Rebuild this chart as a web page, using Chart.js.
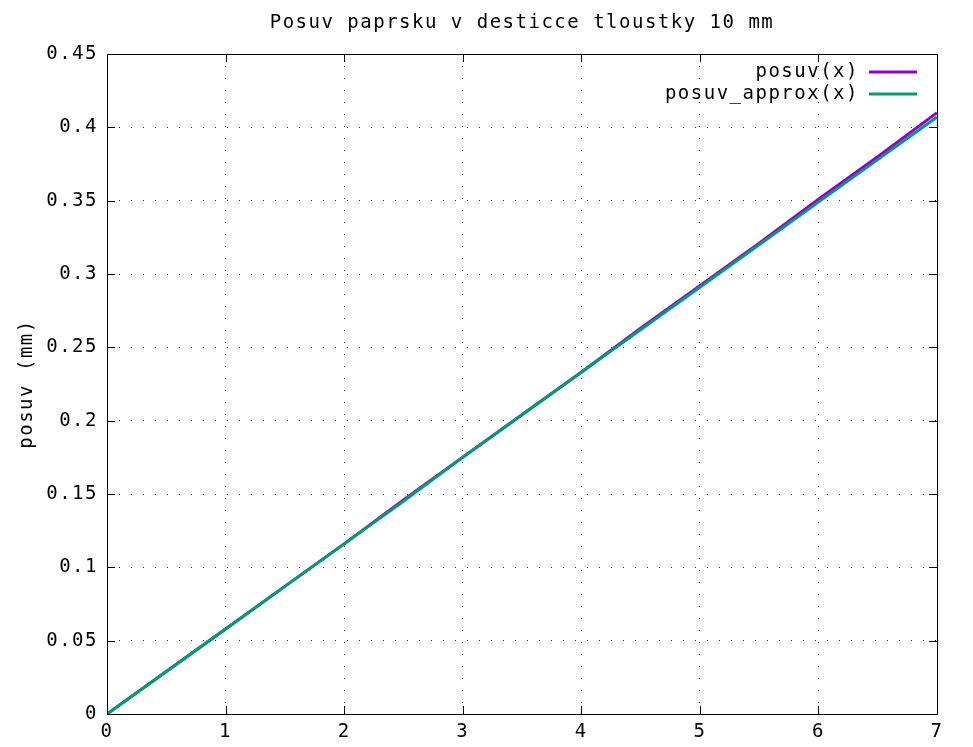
<!DOCTYPE html>
<html>
<head>
<meta charset="utf-8">
<title>Posuv paprsku</title>
<script src="https://cdn.jsdelivr.net/npm/chart.js@4.4.1/dist/chart.umd.min.js"></script>
<style>
  html, body { margin: 0; padding: 0; background: #fff; }
  #wrap { width: 973px; height: 747px; }
</style>
</head>
<body>
<div id="wrap"><canvas id="posuvChart"></canvas></div>
<script>
// hodnoty (uhel dopadu ve stupnich -> posuv v mm)
const uhly = [0, 0.5, 1, 1.5, 2, 2.5, 3, 3.5, 4, 4.5, 5, 5.5, 6, 6.5, 7];
const posuv = [0, 0.029, 0.058, 0.087, 0.116, 0.146, 0.175, 0.204, 0.233, 0.263, 0.292, 0.321, 0.351, 0.380, 0.410];
const posuvApprox = [0, 0.029, 0.058, 0.087, 0.116, 0.145, 0.175, 0.204, 0.233, 0.262, 0.291, 0.320, 0.349, 0.378, 0.407];
const xTicks = [0, 1, 2, 3, 4, 5, 6, 7];
const yTicks = [0, 0.05, 0.1, 0.15, 0.2, 0.25, 0.3, 0.35, 0.4, 0.45];
const nadpis = 'Posuv paprsku v desticce tloustky 10 mm';

const FONT = { family: '"DejaVu Sans Mono", monospace', size: 19 };
const SPACING = '1.5px';

function toPoints(xs, ys) {
    return xs.map((x, i) => ({ x: x, y: ys[i] }));
}

// sirsi rozestup pismen jako v gnuplotu
const spacingPlugin = {
    id: 'spacing',
    beforeLayout(chart) { chart.ctx.letterSpacing = SPACING; },
    beforeDraw(chart) { chart.ctx.letterSpacing = SPACING; }
};

// ramecek, ticky dovnitr, nadpis a legenda
const framePlugin = {
    id: 'frame',
    afterDraw(chart) {
        const { ctx, chartArea: a, scales } = chart;
        ctx.save();
        ctx.strokeStyle = '#000';
        ctx.lineWidth = 1;
        ctx.beginPath();
        xTicks.forEach(v => {
            const px = Math.round(scales.x.getPixelForValue(v)) + 0.5;
            ctx.moveTo(px, a.bottom); ctx.lineTo(px, a.bottom - 8);
            ctx.moveTo(px, a.top); ctx.lineTo(px, a.top + 8);
        });
        yTicks.forEach(v => {
            const py = Math.round(scales.y.getPixelForValue(v)) + 0.5;
            ctx.moveTo(a.left, py); ctx.lineTo(a.left + 8, py);
            ctx.moveTo(a.right, py); ctx.lineTo(a.right - 8, py);
        });
        ctx.stroke();
        ctx.strokeRect(Math.round(a.left) + 0.5, Math.round(a.top) + 0.5,
                       Math.round(a.right - a.left), Math.round(a.bottom - a.top));

        ctx.font = FONT.size + 'px ' + FONT.family;
        ctx.letterSpacing = SPACING;
        ctx.fillStyle = '#000';

        // nadpis nad stredem grafu
        ctx.textAlign = 'center';
        ctx.textBaseline = 'alphabetic';
        ctx.fillText(nadpis, (a.left + a.right) / 2, 28);

        // legenda vpravo nahore
        ctx.textAlign = 'right';
        ctx.textBaseline = 'middle';
        chart.data.datasets.forEach((ds, i) => {
            const y = a.top + 18 + i * 22;
            ctx.fillStyle = '#000';
            ctx.fillText(ds.label, a.right - 78, y);
            ctx.strokeStyle = ds.borderColor;
            ctx.lineWidth = 3;
            ctx.beginPath();
            ctx.moveTo(a.right - 68, y);
            ctx.lineTo(a.right - 20, y);
            ctx.stroke();
        });
        ctx.restore();
    }
};

const ctx = document.getElementById('posuvChart').getContext('2d');
new Chart(ctx, {
    type: 'scatter',
    data: {
        datasets: [
            {
                label: 'posuv(x)',
                data: toPoints(uhly, posuv),
                borderColor: '#9400d3',
                showLine: true,
                pointRadius: 0,
                borderWidth: 3,
                order: 1
            },
            {
                label: 'posuv_approx(x)',
                data: toPoints(uhly, posuvApprox),
                borderColor: '#009e73',
                showLine: true,
                pointRadius: 0,
                borderWidth: 3,
                order: 0
            }
        ]
    },
    options: {
        responsive: true,
        maintainAspectRatio: false,
        animation: false,
        layout: { padding: { left: 0, right: 36, top: 54, bottom: 0 } },
        plugins: {
            legend: { display: false },
            tooltip: { enabled: false },
            title: { display: false }
        },
        scales: {
            x: {
                type: 'linear',
                min: 0,
                max: 7,
                afterFit(scale) { scale.height = 33; },
                afterBuildTicks(scale) { scale.ticks = xTicks.map(v => ({ value: v })); },
                grid: { color: '#222', lineWidth: 1, drawTicks: false },
                border: { display: false, dash: [1, 11] },
                ticks: { color: '#000', font: FONT, padding: 7, maxRotation: 0 }
            },
            y: {
                type: 'linear',
                min: 0,
                max: 0.45,
                afterFit(scale) { scale.width = 107; },
                afterBuildTicks(scale) { scale.ticks = yTicks.map(v => ({ value: v })); },
                grid: { color: '#222', lineWidth: 1, drawTicks: false },
                border: { display: false, dash: [1, 11] },
                ticks: { color: '#000', font: FONT, padding: 9, callback: v => String(v) },
                title: {
                    display: true,
                    text: 'posuv (mm)',
                    color: '#000',
                    font: FONT,
                    padding: { top: 16, bottom: 0 }
                }
            }
        }
    },
    plugins: [spacingPlugin, framePlugin]
});
</script>
</body>
</html>
